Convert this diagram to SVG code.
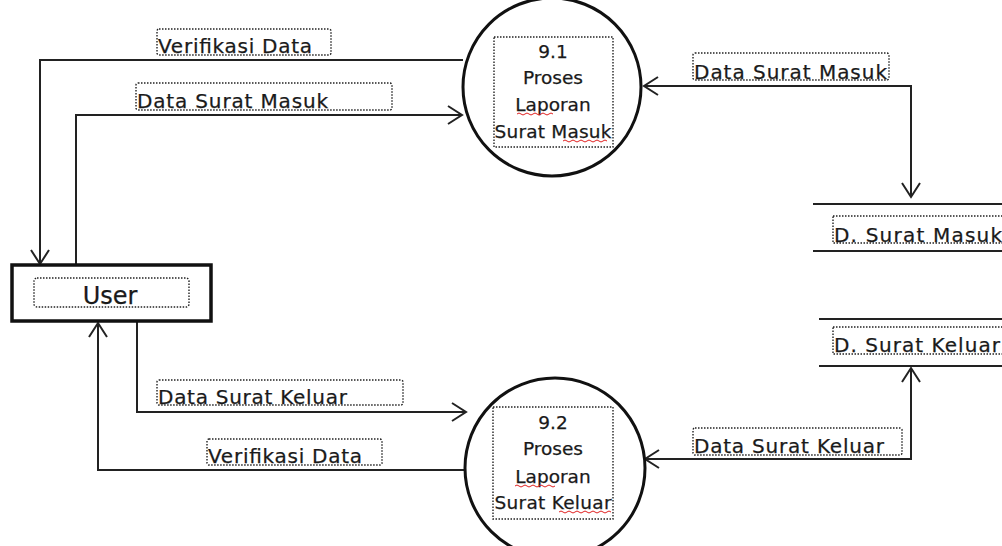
<svg xmlns="http://www.w3.org/2000/svg" width="1002" height="546" viewBox="0 0 1002 546">
  <style>
    .flow { fill: none; stroke: #222; stroke-width: 2; }
    .proc { fill: #fff; stroke: #111; stroke-width: 3; }
    .store { stroke: #222; stroke-width: 2; }
    .dotbox { fill: none; stroke: #222; stroke-width: 1.4; stroke-dasharray: 1.5 1.5; }
    .lbl { font-family: "DejaVu Sans", Tahoma, sans-serif; font-size: 20px; fill: #1a1a1a; stroke: #1a1a1a; stroke-width: 0.25; }
    .ptxt { font-family: "DejaVu Sans", Tahoma, sans-serif; font-size: 18.5px; fill: #1a1a1a; stroke: #1a1a1a; stroke-width: 0.25; text-anchor: middle; }
    .spell { fill: none; stroke: #e02020; stroke-width: 1; }
  </style>
  <defs>
    <marker id="arrow" markerUnits="userSpaceOnUse" markerWidth="18" markerHeight="22" refX="15" refY="10" orient="auto-start-reverse">
      <path d="M1,1 L15,10 L1,19" fill="none" stroke="#222" stroke-width="2"/>
    </marker>
  </defs>
  <rect width="1002" height="546" fill="#fff"/>

  <!-- data flows -->
  <g id="connectors">
    <polyline class="flow" points="463,60 40,60 40,264" marker-end="url(#arrow)"/>
    <polyline class="flow" points="76,265 76,115 462,115" marker-end="url(#arrow)"/>
    <polyline class="flow" points="644,86 911,86 911,197" marker-start="url(#arrow)" marker-end="url(#arrow)"/>
    <polyline class="flow" points="645,459 911,459 911,368" marker-start="url(#arrow)" marker-end="url(#arrow)"/>
    <polyline class="flow" points="137,321 137,412 466,412" marker-end="url(#arrow)"/>
    <polyline class="flow" points="468,470 98,470 98,323" marker-end="url(#arrow)"/>
  </g>

  <!-- flow labels -->
  <g id="labels">
    <rect class="dotbox" x="157" y="29" width="174" height="26" rx="2"/>
    <text class="lbl" x="158" y="53" textLength="154">Verifikasi Data</text>
    <rect class="dotbox" x="136" y="83" width="256" height="27" rx="2"/>
    <text class="lbl" x="137" y="108" textLength="191">Data Surat Masuk</text>
    <rect class="dotbox" x="693" y="53" width="196" height="27" rx="2"/>
    <text class="lbl" x="694" y="79" textLength="193">Data Surat Masuk</text>
    <rect class="dotbox" x="157" y="380" width="246" height="25" rx="2"/>
    <text class="lbl" x="158" y="404" textLength="189">Data Surat Keluar</text>
    <rect class="dotbox" x="207" y="439" width="175" height="26" rx="2"/>
    <text class="lbl" x="208" y="463" textLength="154">Verifikasi Data</text>
    <rect class="dotbox" x="693" y="428" width="209" height="27" rx="2"/>
    <text class="lbl" x="694" y="453" textLength="190">Data Surat Keluar</text>
  </g>

  <!-- external entity -->
  <g id="user">
    <rect x="12" y="265" width="199" height="56" fill="#fff" stroke="#111" stroke-width="3.5"/>
    <rect class="dotbox" x="34" y="278" width="155" height="29" rx="3"/>
    <text x="110" y="304" font-family="DejaVu Sans, Tahoma, sans-serif" font-size="24" fill="#1a1a1a" stroke="#1a1a1a" stroke-width="0.25" text-anchor="middle">User</text>
  </g>

  <!-- process 9.1 -->
  <g id="proc-9-1">
    <circle class="proc" cx="552" cy="87" r="89"/>
    <rect class="dotbox" x="494" y="37" width="119" height="110"/>
    <text class="ptxt" x="553" y="58">9.1</text>
    <text class="ptxt" x="553" y="84">Proses</text>
    <text class="ptxt" x="553" y="111">Laporan</text>
    <text class="ptxt" x="553" y="138" textLength="117">Surat Masuk</text>
    <path class="spell" d="M517,114 q2,-2 4,0 t4,0 t4,0 t4,0 t4,0 t4,0 t4,0 t4,0 t4,0"/>
    <path class="spell" d="M563,141 q2,-2 4,0 t4,0 t4,0 t4,0 t4,0 t4,0 t4,0 t4,0 t4,0 t4,0 t4,0"/>
  </g>

  <!-- process 9.2 -->
  <g id="proc-9-2">
    <circle class="proc" cx="555" cy="468" r="90"/>
    <rect class="dotbox" x="493" y="407" width="120" height="112"/>
    <text class="ptxt" x="553" y="429">9.2</text>
    <text class="ptxt" x="553" y="455">Proses</text>
    <text class="ptxt" x="553" y="483">Laporan</text>
    <text class="ptxt" x="553" y="509" textLength="117">Surat Keluar</text>
    <path class="spell" d="M515,486 q2,-2 4,0 t4,0 t4,0 t4,0 t4,0 t4,0 t4,0 t4,0 t4,0 t4,0"/>
    <path class="spell" d="M559,512 q2,-2 4,0 t4,0 t4,0 t4,0 t4,0 t4,0 t4,0 t4,0 t4,0 t4,0 t4,0 t4,0 t4,0"/>
  </g>

  <!-- data stores -->
  <g id="store-masuk">
    <line class="store" x1="813" y1="204" x2="1002" y2="204"/>
    <line class="store" x1="813" y1="251" x2="1002" y2="251"/>
    <rect class="dotbox" x="833" y="216" width="175" height="27"/>
    <text class="lbl" x="834" y="242" textLength="168">D. Surat Masuk</text>
  </g>
  <g id="store-keluar">
    <line class="store" x1="819" y1="319" x2="1002" y2="319"/>
    <line class="store" x1="819" y1="366" x2="1002" y2="366"/>
    <rect class="dotbox" x="833" y="327" width="175" height="27"/>
    <text class="lbl" x="834" y="352" textLength="166">D. Surat Keluar</text>
  </g>
</svg>
